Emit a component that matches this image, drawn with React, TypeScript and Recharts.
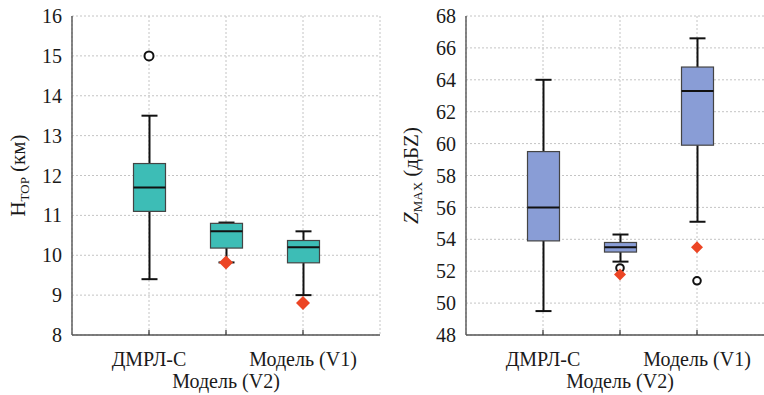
import React from "react";
import { Bar, CartesianGrid, ComposedChart, Scatter, XAxis, YAxis } from "recharts";

const categories = ["ДМРЛ-С", "Модель (V2)", "Модель (V1)"];
const positions = [1, 2, 3];

// H_TOP, km
const htopLow = [9.4, 9.82, 9.0];
const htopQ1 = [11.1, 10.18, 9.81];
const htopMedian = [11.7, 10.6, 10.2];
const htopQ3 = [12.3, 10.8, 10.37];
const htopHigh = [13.5, 10.82, 10.6];
const htopOutlierPos = [1];
const htopOutlierValues = [15];
const htopMarkerPos = [2, 3];
const htopMarkerValues = [9.82, 8.8];
const htopTicks = [8, 9, 10, 11, 12, 13, 14, 15, 16];

// Z_MAX, dBZ
const zmaxLow = [49.5, 52.6, 55.1];
const zmaxQ1 = [53.9, 53.2, 59.9];
const zmaxMedian = [56.0, 53.5, 63.3];
const zmaxQ3 = [59.5, 53.8, 64.8];
const zmaxHigh = [64.0, 54.3, 66.6];
const zmaxOutlierPos = [2, 3];
const zmaxOutlierValues = [52.2, 51.4];
const zmaxMarkerPos = [2, 3];
const zmaxMarkerValues = [51.8, 53.5];
const zmaxTicks = [48, 50, 52, 54, 56, 58, 60, 62, 64, 66, 68];

const FONT = "'Times New Roman', 'Liberation Serif', serif";
const FRAME = "#555";

function buildRows(low: number[], q1: number[], med: number[], q3: number[], high: number[]) {
  return positions.map((pos, i) => ({
    pos,
    name: categories[i],
    box: [q1[i], q3[i]],
    low: low[i],
    q1: q1[i],
    median: med[i],
    q3: q3[i],
    high: high[i],
  }));
}

function buildPoints(pos: number[], values: number[]) {
  return pos.map((p, i) => ({ pos: p, value: values[i] }));
}

// whiskers, box and median, placed with the bar's own y scale
function BoxShape(props: any) {
  const { x, y, width, height, payload, fill } = props;
  const k = height / (payload.q3 - payload.q1);
  const yOf = (v: number) => y + (payload.q3 - v) * k;
  const cx = x + width / 2;
  const cap = 8;
  return (
    <g>
      <line x1={cx} x2={cx} y1={yOf(payload.high)} y2={y} stroke="#111" strokeWidth={2} />
      <line x1={cx} x2={cx} y1={y + height} y2={yOf(payload.low)} stroke="#111" strokeWidth={2} />
      <line x1={cx - cap} x2={cx + cap} y1={yOf(payload.high)} y2={yOf(payload.high)} stroke="#111" strokeWidth={2} />
      <line x1={cx - cap} x2={cx + cap} y1={yOf(payload.low)} y2={yOf(payload.low)} stroke="#111" strokeWidth={2} />
      <rect x={x} y={y} width={width} height={height} fill={fill} stroke="#444" strokeWidth={1.2} />
      <line x1={x} x2={x + width} y1={yOf(payload.median)} y2={yOf(payload.median)} stroke="#111" strokeWidth={2} />
    </g>
  );
}

function OutlierShape(props: any) {
  const { cx, cy, r } = props;
  return <circle cx={cx} cy={cy} r={r ?? 4} fill="#fff" stroke="#111" strokeWidth={2} />;
}

function DiamondShape(props: any) {
  const { cx, cy, s } = props;
  const h = s ?? 6.5;
  return <polygon points={`${cx},${cy - h} ${cx + h},${cy} ${cx},${cy + h} ${cx - h},${cy}`} fill="#ec4524" />;
}

function XTick(props: any) {
  const { x, y, payload, index } = props;
  const name = categories[payload.value - 1] ?? "";
  return (
    <g>
      <line x1={x} x2={x} y1={y} y2={y - 5} stroke="#333" strokeWidth={1.2} />
      <text x={x} y={y + 31 + (index === 1 ? 22 : 0)} textAnchor="middle" style={{ fontFamily: FONT }} fontSize={20} fill="#1a1a1a">
        {name}
      </text>
    </g>
  );
}

function AxisTitle(props: any) {
  const { viewBox, main, sub, unit, italic, dx } = props;
  const x = viewBox.x + dx;
  const cy = viewBox.y + viewBox.height / 2;
  return (
    <text transform={`rotate(-90, ${x}, ${cy})`} x={x} y={cy} textAnchor="middle" style={{ fontFamily: FONT }} fontSize={21} fill="#1a1a1a">
      <tspan fontStyle={italic ? "italic" : "normal"}>{main}</tspan>
      <tspan fontSize={13} dy={4}>{sub}</tspan>
      <tspan dy={-4}>{" " + unit}</tspan>
    </text>
  );
}

function BoxPanel(props: any) {
  const { rows, outliers, markers, domain, ticks, fill, margin, title, outlierR, diamond } = props;
  return (
    <ComposedChart width={390} height={395} data={rows} margin={margin} style={{ fontFamily: FONT }}>
      <CartesianGrid stroke="#c4c4c4" strokeDasharray="2 2" />
      <XAxis
        dataKey="pos"
        type="number"
        domain={[0, 4]}
        ticks={positions}
        height={50}
        tickSize={0}
        tickMargin={0}
        tickLine={false}
        tick={<XTick />}
        axisLine={{ stroke: FRAME, strokeWidth: 1.4 }}
        interval={0}
      />
      <XAxis xAxisId="top" orientation="top" type="number" domain={[0, 4]} height={0} tick={false} tickLine={false} axisLine={{ stroke: FRAME, strokeWidth: 1.4 }} />
      <YAxis
        type="number"
        domain={domain}
        ticks={ticks}
        width={60}
        tickLine={false}
        tickMargin={4}
        allowDataOverflow
        interval={0}
        axisLine={{ stroke: FRAME, strokeWidth: 1.4 }}
        tick={{ style: { fontFamily: FONT }, fontSize: 20, fill: "#1a1a1a" }}
        label={{ content: (p: any) => <AxisTitle {...p} {...title} /> }}
      />
      <YAxis yAxisId="right" orientation="right" type="number" domain={domain} width={0} tick={false} tickLine={false} axisLine={{ stroke: FRAME, strokeWidth: 1.4 }} />
      <Bar dataKey="box" barSize={32} fill={fill} shape={<BoxShape />} isAnimationActive={false} />
      <Scatter data={outliers} dataKey="value" shape={<OutlierShape r={outlierR} />} isAnimationActive={false} />
      <Scatter data={markers} dataKey="value" shape={<DiamondShape s={diamond} />} isAnimationActive={false} />
    </ComposedChart>
  );
}

export default function App() {
  const htopRows = buildRows(htopLow, htopQ1, htopMedian, htopQ3, htopHigh);
  const zmaxRows = buildRows(zmaxLow, zmaxQ1, zmaxMedian, zmaxQ3, zmaxHigh);
  return (
    <div style={{ position: "fixed", left: 0, top: 0, width: 764, height: 395, overflow: "hidden", background: "#fff", fontFamily: FONT }}>
      <div style={{ position: "absolute", left: 0, top: 0 }}>
        <BoxPanel
          rows={htopRows}
          outliers={buildPoints(htopOutlierPos, htopOutlierValues)}
          markers={buildPoints(htopMarkerPos, htopMarkerValues)}
          domain={[8, 16]}
          ticks={htopTicks}
          fill="#3dbdb6"
          margin={{ top: 16, right: 10, bottom: 10, left: 12 }}
          title={{ main: "H", sub: "TOP", unit: "(км)", italic: false, dx: 13 }}
          outlierR={4.5}
          diamond={7}
        />
      </div>
      <div style={{ position: "absolute", left: 390, top: 0 }}>
        <BoxPanel
          rows={zmaxRows}
          outliers={buildPoints(zmaxOutlierPos, zmaxOutlierValues)}
          markers={buildPoints(zmaxMarkerPos, zmaxMarkerValues)}
          domain={[48, 68]}
          ticks={zmaxTicks}
          fill="#899dd6"
          margin={{ top: 16, right: 6, bottom: 10, left: 16 }}
          title={{ main: "Z", sub: "MAX", unit: "(дБZ)", italic: true, dx: 12 }}
          outlierR={3.8}
          diamond={6}
        />
      </div>
    </div>
  );
}
